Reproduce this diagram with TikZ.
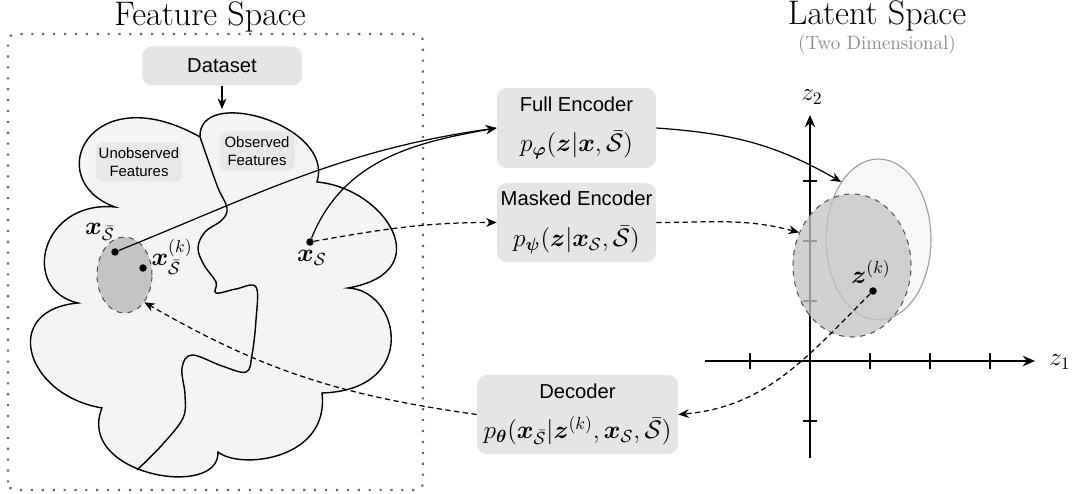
\documentclass[tikz,border=0pt]{standalone}
\usepackage{amsmath, amsfonts, amssymb}
\usepackage{xcolor}
\usepackage{fontspec}
\setsansfont{Liberation Sans}
\usetikzlibrary{arrows.meta,shapes.geometric}
\newcommand{\mathsz}{\fontsize{14}{16}\selectfont}

\begin{document}
\begin{tikzpicture}[
  title/.style={font=\fontsize{19.4}{22}\selectfont,anchor=base,inner sep=0pt},
  subtitle/.style={font=\fontsize{11}{13}\selectfont,text=csub,anchor=base,inner sep=0pt},
  frame/.style={draw=cframe,line width=1.2pt,dash pattern=on 1.2pt off 5pt,rounded corners=0.15cm},
  cloud/.style={draw=black,fill=cfill,line width=0.8pt},
  divider/.style={draw=black,line width=0.8pt},
  box/.style={fill=cbox,rounded corners=0.2cm,align=center,inner sep=0pt,font=\sffamily\fontsize{11.5}{15}\selectfont},
  tag/.style={fill=ctag,rounded corners=0.12cm,align=center,inner sep=0pt,minimum height=0.78cm,font=\sffamily\fontsize{8.5}{10.5}\selectfont},
  region/.style={ellipse,draw=cdash,fill=cdark,dashed,line width=0.6pt,inner sep=0pt},
  postlight/.style={ellipse,draw=clightb,fill=clight,line width=0.6pt,inner sep=0pt},
  postdark/.style={ellipse,draw=cdash,fill=cdark,fill opacity=0.78,dashed,line width=0.6pt,inner sep=0pt},
  fdot/.style={circle,fill=black,inner sep=0pt,minimum size=0.15cm},
  lbl/.style={font=\mathsz,inner sep=0pt},
  axis/.style={line width=0.7pt,-{Stealth[length=7pt,width=6pt]}},
  axtick/.style={line width=0.7pt},
  link/.style={line width=0.7pt,-{Stealth[length=6pt,width=5pt]}},
  dlink/.style={link,dash pattern=on 3pt off 2pt}
]
\definecolor{csub}{rgb}{0.53,0.53,0.53}
\definecolor{cframe}{rgb}{0.4,0.4,0.4}
\definecolor{cfill}{rgb}{0.957,0.957,0.957}
\definecolor{cbox}{rgb}{0.9,0.9,0.9}
\definecolor{ctag}{rgb}{0.91,0.91,0.91}
\definecolor{cdark}{rgb}{0.77,0.77,0.77}
\definecolor{cdash}{rgb}{0.33,0.33,0.33}
\definecolor{clight}{rgb}{0.97,0.97,0.97}
\definecolor{clightb}{rgb}{0.6,0.6,0.6}
%
\useasboundingbox (0,0) rectangle (21.5,9.88);
%
\node[title] (fstitle) at (4.2,9.36) {Feature Space};
\node[title] (lstitle) at (17.54,9.38) {Latent Space};
\node[subtitle] (lssub) at (17.54,8.88) {(Two Dimensional)};
%
\draw[frame] (0.16,0.08) rectangle (8.46,9.2);
%
\draw[cloud] (4.00,7.14) .. controls (3.96,8.18) and (6.70,7.38) .. (6.34,6.24)
  .. controls (7.70,6.12) and (8.80,4.44) .. (6.96,4.12)
  .. controls (8.00,4.08) and (8.40,2.08) .. (6.44,2.02)
  .. controls (6.60,0.68) and (4.80,0.48) .. (4.36,0.84)
  .. controls (4.40,-0.12) and (1.50,0.38) .. (2.04,1.72)
  .. controls (0.50,1.98) and (0.00,3.68) .. (1.56,3.82)
  .. controls (0.40,4.08) and (0.80,5.88) .. (2.30,5.74)
  .. controls (0.80,6.28) and (1.80,8.38) .. (4.00,7.14) -- cycle;
\draw[divider] plot[smooth,tension=0.6] coordinates {(4.00,7.14) (4.16,6.68) (4.36,6.12) (4.54,5.72) (4.44,5.48) (4.10,5.24) (3.96,4.92) (4.08,4.58) (4.32,4.24) (4.32,4.02) (4.72,4.10) (5.12,4.14) (5.12,3.48) (5.04,2.78) (4.92,2.44) (4.44,2.56) (3.84,2.78) (3.64,2.52) (3.70,1.98) (3.66,1.52) (3.24,0.98) (2.74,0.48)};
%
\node[tag,minimum width=1.72cm] (unobs) at (2.78,6.64) {Unobserved\\Features};
\node[tag,minimum width=1.5cm] (obs) at (5.14,6.86) {Observed\\Features};
\node[region,minimum width=1.1cm,minimum height=1.52cm] (xsbarset) at (2.49,4.38) {};
\node[fdot] (xsbar) at (2.30,4.84) {};
\node[fdot] (xsbark) at (2.86,4.52) {};
\node[fdot] (xs) at (6.20,5.04) {};
\node[lbl] (xsbarlbl) at (2.00,5.24) {$\boldsymbol{x}_{\bar{\mathcal{S}}}$};
\node[lbl] (xsbarklbl) at (3.44,4.74) {$\boldsymbol{x}_{\bar{\mathcal{S}}}^{(k)}$};
\node[lbl] (xslbl) at (6.24,4.72) {$\boldsymbol{x}_{\mathcal{S}}$};
%
\node[box,minimum width=3.2cm,minimum height=0.78cm] (dataset) at (4.44,8.56) {Dataset};
\coordinate (cloudtop) at (4.44,7.70);
\draw[link] (dataset) -- (cloudtop);
%
\node[box,minimum width=3.18cm,minimum height=1.6cm] (fullenc) at (11.53,7.32) {Full Encoder\\[8pt]{\mathsz$p_{\boldsymbol{\varphi}}(\boldsymbol{z}|\boldsymbol{x},\bar{\mathcal{S}})$}};
\node[box,minimum width=3.18cm,minimum height=1.58cm] (maskenc) at (11.53,5.43) {Masked Encoder\\[8pt]{\mathsz$p_{\boldsymbol{\psi}}(\boldsymbol{z}|\boldsymbol{x}_{\mathcal{S}},\bar{\mathcal{S}})$}};
\node[box,minimum width=4.02cm,minimum height=1.58cm] (decoder) at (11.55,1.59) {Decoder\\[8pt]{\mathsz$p_{\boldsymbol{\theta}}(\boldsymbol{x}_{\bar{\mathcal{S}}}|\boldsymbol{z}^{(k)},\boldsymbol{x}_{\mathcal{S}},\bar{\mathcal{S}})$}};
%
\coordinate (z1start) at (14.1,2.66);
\coordinate (z1end) at (20.7,2.66);
\coordinate (z2start) at (16.2,0.72);
\coordinate (z2end) at (16.2,7.58);
\foreach \x in {15.0,17.4,18.6,19.8} \draw[axtick] (\x,2.5) -- (\x,2.82);
\foreach \y in {1.46,3.86,5.06,6.26} \draw[axtick] (16.06,\y) -- (16.34,\y);
\draw[axis] (z1start) -- (z1end);
\draw[axis] (z2start) -- (z2end);
\node[lbl] (z1lbl) at (21.2,2.64) {$z_1$};
\node[lbl] (z2lbl) at (16.24,7.94) {$z_2$};
%
\node[postlight,minimum width=2.1cm,minimum height=3.22cm] (fullpost) at (17.57,5.09) {};
\node[postdark,minimum width=2.36cm,minimum height=2.86cm] (maskpost) at (17.04,4.57) {};
\node[fdot] (zk) at (17.46,4.06) {};
\node[lbl] (zklbl) at (17.42,4.44) {$\boldsymbol{z}^{(k)}$};
%
\draw[link] (xsbar) to[out=22,in=188] (fullenc.west);
\draw[link] (xs) to[out=68,in=190] (fullenc.west);
\draw[dlink] (xs) to[out=10,in=180] (maskenc.west);
\draw[link] (fullenc.east) to[out=-4,in=150] (fullpost.123);
\draw[dlink] (maskenc.east) to[out=0,in=165] (maskpost.148);
\draw[dlink] (zk) to[out=225,in=5] (decoder.east);
\draw[dlink] (decoder.west) to[out=172,in=-30] (xsbarset.-54);
%
\end{tikzpicture}
\end{document}
